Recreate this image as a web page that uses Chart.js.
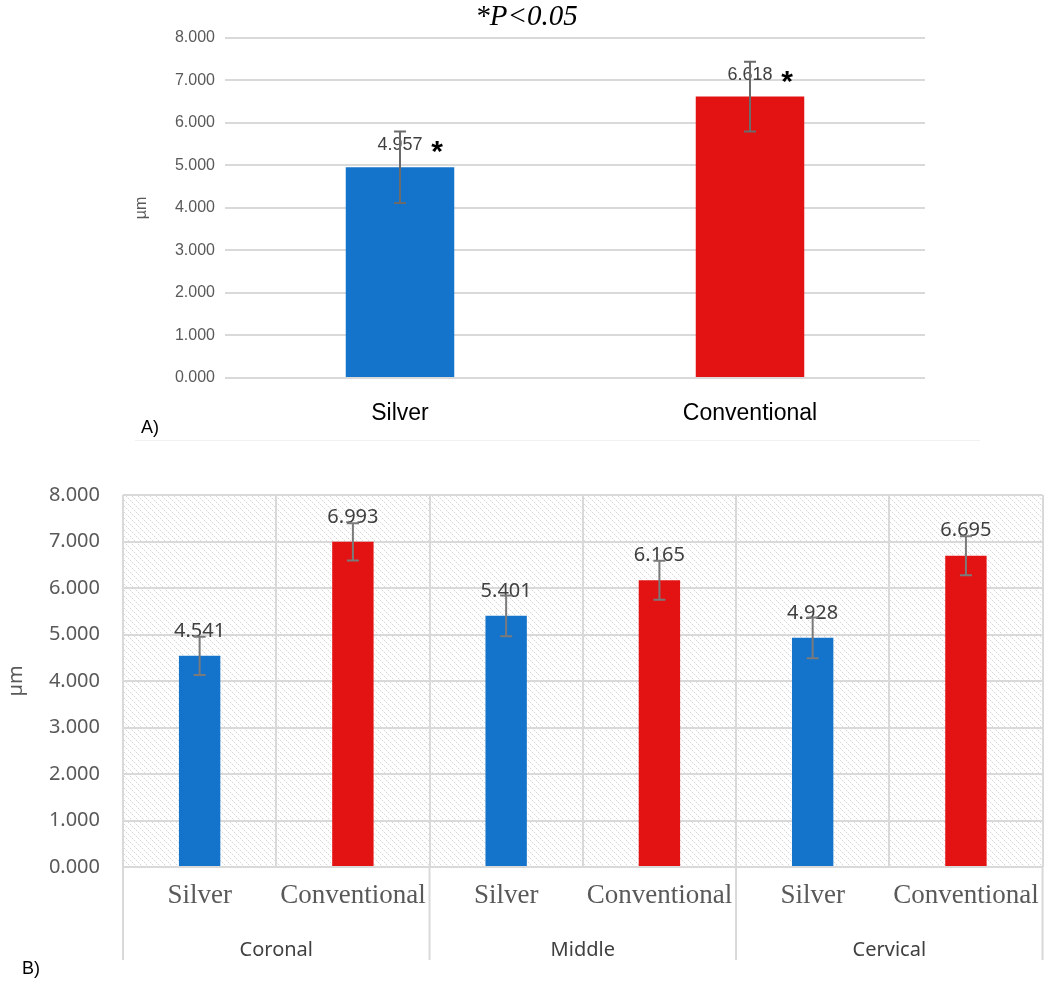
<!DOCTYPE html>
<html><head><meta charset="utf-8">
<script src="https://cdn.jsdelivr.net/npm/chart.js@4.4.1/dist/chart.umd.min.js"></script>
<style>
html,body{margin:0;padding:0;background:#fff;width:1052px;height:985px;overflow:hidden;position:relative;}
canvas{position:absolute;left:0;}
#cA{top:0;} #cB{top:460px;}
.pl{position:absolute;font-family:'Liberation Sans',Arial,sans-serif;font-size:18px;color:#000;line-height:20px;}
</style></head><body>
<canvas id="cA" width="1052" height="445"></canvas>
<canvas id="cB" width="1052" height="525"></canvas>
<div class="pl" style="left:141px;top:417px;">A)</div>
<div class="pl" style="left:22px;top:958px;">B)</div>
<div style="position:absolute;left:135px;top:440px;width:845px;height:1px;background:#f1f1f1"></div>
<script>
// ---------- data ----------
const categoriesA = ['Silver', 'Conventional'];
const valuesA = [4.957, 6.618];
const errorsA = [0.84, 0.82];
const significanceA = ['*', '*'];
const titleA = '*P<0.05';

const categoriesB = ['Silver', 'Conventional', 'Silver', 'Conventional', 'Silver', 'Conventional'];
const groupsB = ['Coronal', 'Middle', 'Cervical'];
const valuesB = [4.541, 6.993, 5.401, 6.165, 4.928, 6.695];
const errorsB = [0.41, 0.40, 0.44, 0.42, 0.44, 0.42];

const yMin = 0, yMax = 8, yStep = 1;
const yAxisTitle = 'µm';

// ---------- styles ----------
const BLUE = '#1473CA';
const RED = '#E41313';
const GRID = '#d9d9d9';
const barColor = ctx => (ctx.dataIndex % 2 === 0 ? BLUE : RED);

// ---------- plugins ----------
const errorBarPlugin = {
  id: 'errorBars',
  afterDatasetsDraw(chart, args, opts) {
    const { ctx } = chart;
    const ys = chart.scales.y;
    const meta = chart.getDatasetMeta(0);
    const vals = chart.data.datasets[0].data;
    ctx.save();
    ctx.strokeStyle = opts.color;
    ctx.lineWidth = opts.width;
    meta.data.forEach((el, i) => {
      const e = opts.errors[i];
      const t = ys.getPixelForValue(vals[i] + e);
      const b = ys.getPixelForValue(vals[i] - e);
      ctx.beginPath();
      ctx.moveTo(el.x, t); ctx.lineTo(el.x, b);
      ctx.moveTo(el.x - opts.cap, t); ctx.lineTo(el.x + opts.cap, t);
      ctx.moveTo(el.x - opts.cap, b); ctx.lineTo(el.x + opts.cap, b);
      ctx.stroke();
    });
    ctx.restore();
  }
};

const valueLabelPlugin = {
  id: 'valueLabels',
  afterDatasetsDraw(chart, args, opts) {
    const { ctx } = chart;
    const meta = chart.getDatasetMeta(0);
    const vals = chart.data.datasets[0].data;
    ctx.save();
    meta.data.forEach((el, i) => {
      ctx.font = opts.font;
      ctx.fillStyle = opts.color;
      ctx.textAlign = 'center';
      ctx.textBaseline = 'middle';
      ctx.fillText(vals[i].toFixed(3), el.x, el.y - opts.offset);
      if (opts.marks && opts.marks[i]) {
        ctx.font = opts.markFont;
        ctx.fillStyle = '#000';
        ctx.textBaseline = 'alphabetic';
        ctx.fillText(opts.marks[i], el.x + opts.markDx, el.y - opts.offset + opts.markDy);
      }
    });
    ctx.restore();
  }
};

function makeHatch() {
  const c = document.createElement('canvas');
  c.width = 6; c.height = 6;
  const g = c.getContext('2d');
  for (let i = 0; i < 6; i++) {
    g.fillStyle = i % 2 === 0 ? 'rgba(150,150,150,0.38)' : 'rgba(190,190,190,0.2)';
    g.fillRect(i, i, 1, 1);
  }
  return c;
}

const hatchPlugin = {
  id: 'hatch',
  beforeDraw(chart) {
    const { ctx, chartArea: a } = chart;
    ctx.save();
    ctx.fillStyle = ctx.createPattern(makeHatch(), 'repeat');
    ctx.fillRect(a.left, a.top, a.width, a.height);
    ctx.restore();
  }
};

const groupSeparatorPlugin = {
  id: 'groupSep',
  afterDraw(chart, args, opts) {
    const { ctx, chartArea: a } = chart;
    const n = opts.groups;
    ctx.save();
    ctx.strokeStyle = GRID;
    ctx.lineWidth = 2;
    for (let k = 0; k <= n; k++) {
      const x = a.left + k * a.width / n;
      ctx.beginPath();
      ctx.moveTo(x, a.bottom);
      ctx.lineTo(x, a.bottom + opts.length);
      ctx.stroke();
    }
    ctx.restore();
  }
};

Chart.defaults.animation = false;

// ---------- chart A ----------
new Chart(document.getElementById('cA'), {
  type: 'bar',
  data: {
    labels: categoriesA,
    datasets: [{ data: valuesA, backgroundColor: barColor, borderWidth: 0,
      categoryPercentage: 1, barPercentage: 0.31 }]
  },
  options: {
    responsive: false,
    layout: { padding: { left: 128, right: 127, top: 0, bottom: 0 } },
    plugins: {
      legend: { display: false },
      tooltip: { enabled: false },
      title: { display: true, text: titleA, color: '#000',
        font: { family: "'Liberation Serif', 'Times New Roman', serif", size: 29, style: 'italic', weight: 'normal' },
        padding: { top: 0, bottom: 3 } },
      errorBars: { errors: errorsA, color: '#6b6b6b', width: 2, cap: 6 },
      valueLabels: { font: "18px 'Liberation Sans', Arial, sans-serif", color: '#404040', offset: 22,
        marks: significanceA, markFont: "bold 30px 'Liberation Sans', Arial, sans-serif", markDx: 37, markDy: 16 }
    },
    scales: {
      x: {
        grid: { display: false },
        border: { display: false },
        ticks: { color: '#000', padding: 14, font: { family: "'Liberation Sans', Arial, sans-serif", size: 23 } },
        afterFit: s => { s.height = 67; }
      },
      y: {
        min: yMin, max: yMax,
        grid: { color: GRID, lineWidth: 2, drawTicks: false },
        border: { display: false },
        ticks: { stepSize: yStep, padding: 10, color: '#595959',
          font: { family: "'Liberation Sans', Arial, sans-serif", size: 16 },
          callback: v => Number(v).toFixed(3) },
        title: { display: true, text: yAxisTitle, color: '#595959',
          font: { family: "'Liberation Sans', Arial, sans-serif", size: 16 } },
        afterFit: s => { s.width = 97; }
      }
    }
  },
  plugins: [valueLabelPlugin, errorBarPlugin]
});

// ---------- chart B ----------
new Chart(document.getElementById('cB'), {
  type: 'bar',
  data: {
    labels: categoriesB,
    datasets: [{ data: valuesB, backgroundColor: barColor, borderWidth: 0,
      categoryPercentage: 1, barPercentage: 0.27 }]
  },
  options: {
    responsive: false,
    layout: { padding: { left: 0, right: 4, top: 31, bottom: 13 } },
    plugins: {
      legend: { display: false },
      tooltip: { enabled: false },
      hatch: {},
      groupSep: { groups: groupsB.length, length: 93 },
      errorBars: { errors: errorsB, color: '#7a7a7a', width: 2, cap: 6 },
      valueLabels: { font: "20px 'Noto Sans', sans-serif", color: '#404040', offset: 25 }
    },
    scales: {
      x: {
        grid: { color: GRID, lineWidth: 2, drawTicks: false, offset: true },
        border: { display: false },
        ticks: { color: '#595959', padding: 13, autoSkip: false, maxRotation: 0,
          font: { family: "'Liberation Serif', 'Times New Roman', serif", size: 27 } },
        afterFit: s => { s.height = 53; }
      },
      x2: {
        type: 'category',
        labels: groupsB,
        position: 'bottom',
        offset: true,
        grid: { display: false },
        border: { display: false },
        ticks: { color: '#404040', padding: 10, autoSkip: false, maxRotation: 0,
          font: { family: "'Noto Sans', sans-serif", size: 20 } },
        afterFit: s => { s.height = 52; }
      },
      y: {
        min: yMin, max: yMax,
        grid: { color: GRID, lineWidth: 2, drawTicks: false },
        border: { display: false },
        ticks: { stepSize: yStep, padding: 23, color: '#595959',
          font: { family: "'Noto Sans', sans-serif", size: 20 },
          callback: v => Number(v).toFixed(3) },
        title: { display: true, text: yAxisTitle, color: '#595959',
          font: { family: "'Noto Sans', sans-serif", size: 20 } },
        afterFit: s => { s.width = 123; }
      }
    }
  },
  plugins: [hatchPlugin, groupSeparatorPlugin, valueLabelPlugin, errorBarPlugin]
});
</script>
</body></html>
